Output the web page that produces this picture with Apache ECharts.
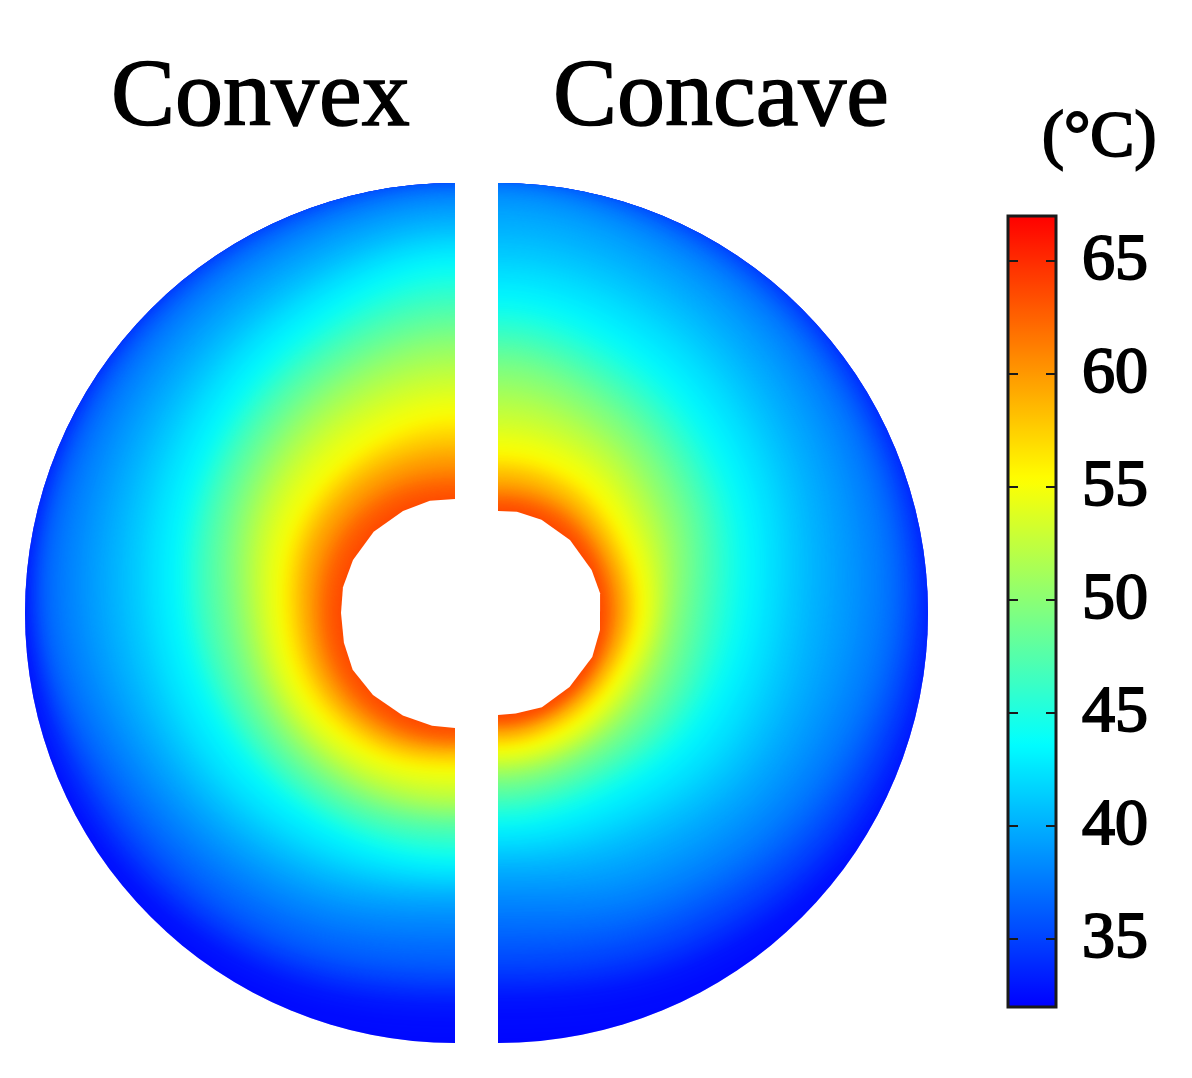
<!DOCTYPE html>
<html>
<head>
<meta charset="utf-8">
<style>
html, body { margin: 0; padding: 0; background: #fff; }
#main { width: 1192px; height: 1078px; }
</style>
<script src="https://cdn.jsdelivr.net/npm/echarts@6/dist/echarts.min.js"></script>
</head>
<body>
<div id="main"></div>
<script>
// isotherm temperatures, one polygon per level
var tempLevels = [32, 33, 34, 35, 36, 37, 38, 39, 40, 41, 42, 43, 44, 45, 46, 47, 48, 49,
    50, 51, 52, 53, 54, 55, 56, 57, 58, 59, 60, 61, 62, 63, 64];
// degrees away from the top of the disc
var spokeAngles = [0, 30, 60, 90, 120, 150, 180];
var tickValues = [35, 40, 45, 50, 55, 60, 65];

// radius of each isotherm on each spoke
var convexRadius = [
    [480, 480, 480, 480, 480, 480, 480],
    [460, 450, 440, 429, 425, 415, 400],
    [445, 438, 430, 422, 412, 398, 382],
    [430, 428, 423, 416, 400, 384, 367],
    [424, 420, 415, 410, 385, 370, 354],
    [418, 412, 406, 402, 370, 350, 332],
    [412, 402, 392, 383, 352, 331, 311],
    [402, 388, 374, 363, 335, 313, 292],
    [390, 372, 356, 342, 318, 298, 279],
    [377, 356, 339, 322, 303, 284, 268],
    [366, 344, 323, 303, 288, 271, 259],
    [355, 329, 305, 286, 270, 256, 251],
    [344, 316, 291, 270, 256, 245, 244],
    [331, 305, 282, 262, 247, 238, 235],
    [318, 295, 273, 253, 239, 230, 226],
    [305, 285, 264, 244, 231, 222, 216],
    [293, 275, 255, 233, 222, 214, 208],
    [281, 264, 245, 223, 214, 207, 201],
    [270, 254, 236, 214, 206, 200, 196],
    [257, 244, 227, 206, 199, 193, 190],
    [244, 232, 218, 198, 192, 187, 184],
    [230, 220, 208, 190, 185, 179, 175],
    [216, 208, 198, 182, 178, 171, 166],
    [202, 192, 185, 174, 171, 164, 157],
    [191, 184, 178, 168, 165, 158, 151],
    [181, 176, 171, 161, 158, 152, 146],
    [170, 168, 164, 155, 152, 146, 140],
    [160, 159, 157, 148, 146, 141, 135],
    [150, 150, 148, 142, 140, 135, 130],
    [140, 141, 140, 135, 134, 130, 126],
    [130, 132, 132, 129, 128, 125, 123],
    [118, 120, 120, 119, 119, 118, 116],
    [104, 106, 106, 106, 106, 106, 104]
];
var concaveRadius = [
    [480, 480, 480, 480, 480, 480, 480],
    [465, 452, 442, 435, 428, 410, 387],
    [445, 438, 430, 426, 414, 390, 370],
    [430, 427, 421, 415, 398, 372, 354],
    [426, 420, 411, 404, 382, 354, 334],
    [421, 412, 402, 392, 365, 335, 313],
    [416, 400, 385, 372, 345, 315, 287],
    [410, 385, 363, 345, 320, 292, 266],
    [386, 364, 340, 318, 298, 270, 250],
    [363, 345, 320, 294, 280, 252, 237],
    [341, 325, 300, 274, 260, 236, 226],
    [323, 304, 281, 255, 240, 220, 216],
    [307, 287, 265, 241, 224, 208, 207],
    [295, 275, 252, 228, 214, 199, 199],
    [283, 263, 241, 216, 204, 191, 191],
    [271, 252, 230, 205, 195, 183, 183],
    [260, 240, 219, 194, 185, 175, 176],
    [249, 230, 208, 184, 175, 167, 168],
    [236, 218, 198, 175, 167, 160, 161],
    [222, 207, 187, 168, 160, 155, 156],
    [208, 196, 178, 161, 153, 150, 151],
    [193, 184, 168, 156, 147, 145, 146],
    [179, 173, 159, 150, 141, 140, 141],
    [165, 160, 149, 144, 136, 135, 136],
    [156, 152, 143, 139, 131, 130, 132],
    [148, 145, 137, 134, 127, 126, 128],
    [141, 138, 131, 129, 123, 122, 124],
    [133, 131, 126, 125, 119, 118, 120],
    [126, 125, 121, 120, 115, 114, 116],
    [120, 120, 116, 115, 111, 111, 112],
    [114, 114, 111, 110, 108, 108, 109],
    [106, 106, 105, 104, 104, 104, 105],
    [96, 96, 96, 96, 96, 96, 96]
];

// faceted inner boundary of each half
var convexHoleAngles = [0, 12.6, 27, 45, 62.5, 77, 90, 105, 119, 135, 153, 168.5, 180];
var convexHoleRadius = [114, 115, 114.5, 115, 115, 115, 114, 115, 117, 116, 115, 115, 115];
var concaveHoleAngles = [0, 10.6, 25, 44.6, 65.4, 79, 99.5, 115, 136, 155, 170, 180];
var concaveHoleRadius = [102, 103, 103, 102.5, 103, 104, 103.4, 104, 103, 104, 102, 102];

var discRadius = 430;
// polygons sit off to the side, only their blurred shadow lands on the disc
var shadowShift = 3000;

function coordPoints(api, angles, radii) {
    return angles.map(function (a, i) {
        return api.coord([radii[i], a]);
    });
}

// blur each band about as wide as the gap to the next colder isotherm
function bandBlur(table, idx) {
    if (idx === 0) return 6;
    var sum = 0;
    for (var i = 0; i < spokeAngles.length; i++) {
        sum += table[idx - 1][i] - table[idx][i];
    }
    return Math.max(6, 2 * sum / spokeAngles.length);
}

// isotherm closed into a loop so the smoothing stays round at the straight cut
function levelRenderer(table, clipStart, clipEnd) {
    return function (params, api) {
        var radii = table[params.dataIndex];
        var pts = coordPoints(api, spokeAngles, radii);
        for (var i = spokeAngles.length - 2; i > 0; i--) {
            pts.push(api.coord([radii[i], 360 - spokeAngles[i]]));
        }
        pts = pts.map(function (p) {
            return [p[0] - shadowShift, p[1]];
        });
        var c = api.coord([0, 0]);
        var color = api.visual('color');
        return {
            type: 'polygon',
            z2: params.dataIndex,
            shape: { points: pts, smooth: 0.35 },
            style: {
                fill: color,
                shadowBlur: bandBlur(table, params.dataIndex),
                shadowColor: color,
                shadowOffsetX: shadowShift
            },
            clipPath: {
                type: 'sector',
                shape: { cx: c[0], cy: c[1], r0: 0, r: discRadius, startAngle: clipStart, endAngle: clipEnd, clockwise: true }
            },
            silent: true
        };
    };
}

function holeRenderer(angles, radii) {
    return function (params, api) {
        return {
            type: 'polygon',
            shape: { points: coordPoints(api, angles, radii) },
            style: { fill: '#fff' },
            silent: true
        };
    };
}

// blur puts the isotherm halfway between two fills, so fill with the band middle
var levelData = tempLevels.map(function (t, i) {
    return [0, 0, i === 0 ? t : t + 0.5];
});

var myChart = echarts.init(document.getElementById('main'), null, { devicePixelRatio: 1 });
var option = {
    animation: false,
    backgroundColor: '#fff',
    polar: [
        { center: [455, 613], radius: discRadius },
        { center: [498, 613], radius: discRadius }
    ],
    angleAxis: [
        { polarIndex: 0, show: false, type: 'value', min: 0, max: 360, startAngle: 90, clockwise: false },
        { polarIndex: 1, show: false, type: 'value', min: 0, max: 360, startAngle: 90, clockwise: true }
    ],
    radiusAxis: [
        { polarIndex: 0, show: false, type: 'value', min: 0, max: discRadius },
        { polarIndex: 1, show: false, type: 'value', min: 0, max: discRadius }
    ],
    grid: {
        left: 1008, top: 216, width: 48, height: 791,
        show: true, borderColor: '#1a1a1a', borderWidth: 3, zlevel: 1
    },
    xAxis: { type: 'value', show: false, min: 0, max: 1 },
    yAxis: [{
        type: 'value', position: 'right', min: 32, max: 67, zlevel: 1,
        splitLine: { show: false },
        axisLine: { show: false, onZero: false },
        axisTick: { show: true, inside: true, length: 10, customValues: tickValues, lineStyle: { color: '#1a1a1a', width: 2 } },
        axisLabel: {
            show: true, customValues: tickValues, margin: 26,
            color: '#000', fontFamily: 'Liberation Serif', fontSize: 66,
            textBorderColor: '#000', textBorderWidth: 2
        }
    }, {
        type: 'value', position: 'left', min: 32, max: 67, zlevel: 1,
        splitLine: { show: false },
        axisLine: { show: false, onZero: false },
        axisTick: { show: true, inside: true, length: 10, customValues: tickValues, lineStyle: { color: '#1a1a1a', width: 2 } },
        axisLabel: { show: false }
    }],
    visualMap: {
        type: 'continuous', seriesIndex: [0, 1], dimension: 2,
        min: 32, max: 67, left: 1008, top: 216, padding: 0,
        itemWidth: 48, itemHeight: 791, calculable: false, hoverLink: false,
        inRange: { color: ['#0000ff', '#00ffff', '#ffff00', '#ff0000'] }
    },
    graphic: [
        { type: 'text', silent: true, style: { text: 'Convex', x: 111, y: 100, font: '96px "Liberation Serif"', fill: '#000', stroke: '#000', lineWidth: 1.5, verticalAlign: 'middle' } },
        { type: 'text', silent: true, style: { text: 'Concave', x: 553, y: 100, font: '96px "Liberation Serif"', fill: '#000', stroke: '#000', lineWidth: 1.5, verticalAlign: 'middle' } },
        { type: 'text', silent: true, style: { text: '(°C)', x: 1042, y: 139, font: '66px "Liberation Serif"', fill: '#000', stroke: '#000', lineWidth: 2, verticalAlign: 'middle' } }
    ],
    series: [
        { type: 'custom', coordinateSystem: 'polar', polarIndex: 0, z: 2, data: levelData, renderItem: levelRenderer(convexRadius, Math.PI / 2, Math.PI * 1.5) },
        { type: 'custom', coordinateSystem: 'polar', polarIndex: 1, z: 2, data: levelData, renderItem: levelRenderer(concaveRadius, -Math.PI / 2, Math.PI / 2) },
        { type: 'custom', coordinateSystem: 'polar', polarIndex: 0, z: 3, data: [[0, 0]], renderItem: holeRenderer(convexHoleAngles, convexHoleRadius) },
        { type: 'custom', coordinateSystem: 'polar', polarIndex: 1, z: 3, data: [[0, 0]], renderItem: holeRenderer(concaveHoleAngles, concaveHoleRadius) }
    ]
};
myChart.setOption(option);
</script>
</body>
</html>
